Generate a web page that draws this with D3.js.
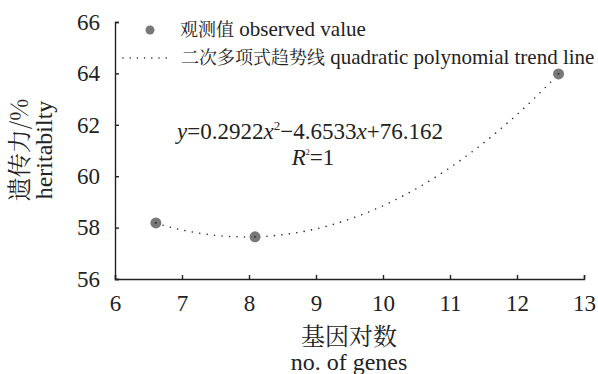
<!DOCTYPE html>
<html>
<head>
<meta charset="utf-8">
<script src="https://cdn.jsdelivr.net/npm/d3@7"></script>
<style>
    body { margin: 0; background: #fff; }
</style>
</head>
<body>
<div id="chart"></div>
<script>
// observed points
var genePairs = [6.61, 8.09, 12.62];
var heritability = [58.18, 57.64, 63.98];
// fitted quadratic y = a x^2 + b x + c
var coefA = 0.2922, coefB = -4.6533, coefC = 76.162;
var xTicks = [6, 7, 8, 9, 10, 11, 12, 13];
var yTicks = [56, 58, 60, 62, 64, 66];

(function() {
    "use strict";
    var w = 598, h = 374,
        left = 115, right = 584, top = 22, bottom = 279,
        ink = "#222";

    var svg = d3.select("#chart").append("svg")
        .attr("width", w)
        .attr("height", h);

    // text helpers: latin in Liberation Serif, chinese in Noto Serif CJK
    function latin(sel) { return sel.attr("font-family", "Liberation Serif").attr("fill", ink); }
    function cjk(sel) { return sel.attr("font-family", "Noto Serif CJK SC").attr("fill", ink); }

    var xScale = d3.scaleLinear().domain([6, 13]).range([left, right]),
        yScale = d3.scaleLinear().domain([56, 66]).range([bottom, top]);

    // axes, ticks pointing inward
    var xAxis = svg.append("g")
        .attr("transform", "translate(0," + bottom + ")")
        .call(d3.axisBottom(xScale).tickValues(xTicks).tickFormat(d3.format("d"))
            .tickSize(-4).tickPadding(16).tickSizeOuter(-4));
    var yAxis = svg.append("g")
        .attr("transform", "translate(" + left + ",0)")
        .call(d3.axisLeft(yScale).tickValues(yTicks).tickFormat(d3.format("d"))
            .tickSize(-4).tickPadding(15).tickSizeOuter(-4));

    [xAxis, yAxis].forEach(function(g) {
        g.attr("font-family", null).attr("font-size", null);
        g.selectAll("path, line").attr("stroke", ink).attr("stroke-width", 1.4);
        latin(g.selectAll("text")).attr("font-size", 23);
    });

    // trend line between the first and last observed x
    var xs = d3.range(0, 61).map(function(i) {
        return genePairs[0] + (genePairs[2] - genePairs[0]) * i / 60;
    });
    var line = d3.line()
        .x(function(d) { return xScale(d); })
        .y(function(d) { return yScale(coefA * d * d + coefB * d + coefC); });

    svg.append("path")
        .datum(xs)
        .attr("d", line)
        .attr("fill", "none")
        .attr("stroke", ink)
        .attr("stroke-width", 1.6)
        .attr("stroke-linecap", "round")
        .attr("stroke-dasharray", "0,7.5");

    // points
    svg.selectAll("circle.obs")
        .data(genePairs)
        .enter()
        .append("circle")
        .attr("class", "obs")
        .attr("cx", function(d) { return xScale(d); })
        .attr("cy", function(d, i) { return yScale(heritability[i]); })
        .attr("r", 5.5)
        .attr("fill", "#787878");
    svg.selectAll("circle.dot")
        .data(genePairs)
        .enter()
        .append("circle")
        .attr("class", "dot")
        .attr("cx", function(d) { return xScale(d); })
        .attr("cy", function(d, i) { return yScale(heritability[i]); })
        .attr("r", 0.9)
        .attr("fill", ink);

    // legend
    svg.append("circle")
        .attr("cx", 150).attr("cy", 30).attr("r", 4.5).attr("fill", "#787878");
    var lg1 = svg.append("text").attr("x", 180).attr("y", 36);
    cjk(lg1.append("tspan")).attr("font-size", 18).text("观测值");
    latin(lg1.append("tspan")).attr("font-size", 21).text(" observed value");

    svg.append("line")
        .attr("x1", 123).attr("x2", 173).attr("y1", 58).attr("y2", 58)
        .attr("stroke", ink).attr("stroke-width", 1.6)
        .attr("stroke-linecap", "round").attr("stroke-dasharray", "0,7.2");
    var lg2 = svg.append("text").attr("x", 181).attr("y", 64);
    cjk(lg2.append("tspan")).attr("font-size", 18).text("二次多项式趋势线");
    latin(lg2.append("tspan")).attr("font-size", 21).text(" quadratic polynomial trend line");

    // equation
    var eq = latin(svg.append("text"))
        .attr("x", 310).attr("y", 139)
        .attr("text-anchor", "middle")
        .attr("font-size", 23);
    eq.append("tspan").attr("font-style", "italic").text("y");
    eq.append("tspan").text("=0.2922");
    eq.append("tspan").attr("font-style", "italic").text("x");
    eq.append("tspan").attr("dy", -9).attr("font-size", 13).text("2");
    eq.append("tspan").attr("dy", 9).text("\u22124.6533");
    eq.append("tspan").attr("font-style", "italic").text("x");
    eq.append("tspan").text("+76.162");

    var r2 = latin(svg.append("text"))
        .attr("x", 313).attr("y", 165)
        .attr("text-anchor", "middle")
        .attr("font-size", 23);
    r2.append("tspan").attr("font-style", "italic").text("R");
    r2.append("tspan").attr("dy", -10).attr("font-size", 8).text("2");
    r2.append("tspan").attr("dy", 10).text("=1");

    // axis titles
    cjk(svg.append("text"))
        .attr("transform", "translate(28,150) rotate(-90)")
        .attr("text-anchor", "middle")
        .attr("font-size", 24)
        .text("遗传力/%");
    latin(svg.append("text"))
        .attr("transform", "translate(52,150) rotate(-90)")
        .attr("text-anchor", "middle")
        .attr("font-size", 24)
        .text("heritabilty");
    cjk(svg.append("text"))
        .attr("x", 349).attr("y", 345)
        .attr("text-anchor", "middle")
        .attr("font-size", 24)
        .text("基因对数");
    latin(svg.append("text"))
        .attr("x", 349).attr("y", 370)
        .attr("text-anchor", "middle")
        .attr("font-size", 24)
        .text("no. of genes");
}());
</script>
</body>
</html>
